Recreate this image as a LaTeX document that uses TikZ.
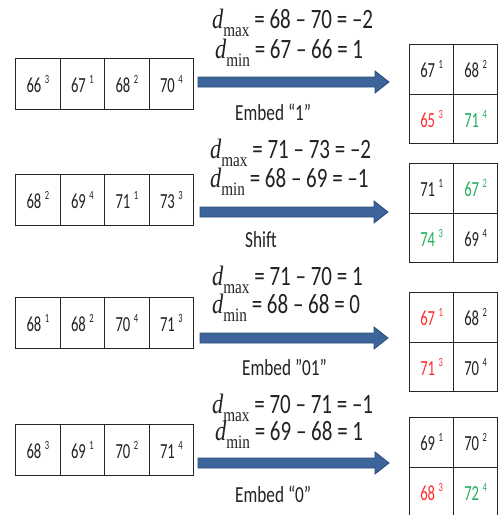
\documentclass[tikz,border=0pt]{standalone}
\usepackage{fontspec}
\setmainfont{Carlito}[FakeStretch=0.75]
\newfontfamily\cellfont{Carlito}[FakeStretch=0.68]
\newfontfamily\eqserif{Liberation Serif}[FakeStretch=0.8]
\usetikzlibrary{calc}
\definecolor{txt}{HTML}{222222}
\definecolor{myred}{HTML}{FF2B2B}
\definecolor{mygreen}{HTML}{1FAF5A}
\definecolor{arrowblue}{HTML}{3D659B}
\definecolor{arrowedge}{HTML}{2A4A78}
\newcommand{\cv}[2]{#1\,\raisebox{0.42em}{\fontsize{12.5}{12.5}\selectfont #2}}
\newcommand{\dd}[1]{{\eqserif\itshape d}\raisebox{-0.28em}{\fontsize{19}{19}\eqserif #1}}
\newcommand{\blockarrow}[2]{%
  \draw[bluearr] ($(#1)+(0,-5)$) -- ($(#2)+(-14,-5)$) -- ($(#2)+(-14,-11)$) -- (#2)
     -- ($(#2)+(-14,11)$) -- ($(#2)+(-14,5)$) -- ($(#1)+(0,5)$) -- cycle;}
\begin{document}
\begin{tikzpicture}[x=1pt,y=-1pt,
  cell/.style={draw=black!85, line width=1.3pt, minimum width=44.5pt, minimum height=51pt,
    inner sep=0pt, anchor=north west, text=txt, font=\cellfont\fontsize{21.5}{21.5}\selectfont},
  gcell/.style={draw=black!85, line width=1.3pt, minimum width=44pt, minimum height=49.5pt,
    inner sep=0pt, anchor=north west, text=txt, font=\cellfont\fontsize{21.5}{21.5}\selectfont},
  eq/.style={anchor=west, inner sep=0pt, text=txt, font=\fontsize{28}{28}\selectfont},
  lbl/.style={anchor=west, inner sep=0pt, text=txt, font=\fontsize{23}{23}\selectfont},
  bluearr/.style={fill=arrowblue, draw=arrowedge, line width=0.8pt, line join=miter}
]
\useasboundingbox (0,0) rectangle (498,515);

% ---------- Row 1 ----------
\node[cell] (r1c1) at (15,58)    {\cv{66}{3}};
\node[cell] (r1c2) at (59.5,58)  {\cv{67}{1}};
\node[cell] (r1c3) at (104,58)   {\cv{68}{2}};
\node[cell] (r1c4) at (148.5,58) {\cv{70}{4}};
\node[eq] (e1a) at (212,23) {\dd{max} = 68 – 70 = –2};
\node[eq] (e1b) at (215,53) {\dd{min} = 67 – 66 = 1};
\coordinate (a1s) at (198,82);
\coordinate (a1e) at (389,82);
\blockarrow{a1s}{a1e}
\node[lbl] (l1) at (235,112) {Embed “1”};
\node[gcell] (g1a) at (409,44)   {\cv{67}{1}};
\node[gcell] (g1b) at (453,44)   {\cv{68}{2}};
\node[gcell,text=myred]   (g1c) at (409,93.5) {\cv{65}{3}};
\node[gcell,text=mygreen] (g1d) at (453,93.5) {\cv{71}{4}};

% ---------- Row 2 ----------
\node[cell] (r2c1) at (15,174)    {\cv{68}{2}};
\node[cell] (r2c2) at (59.5,174)  {\cv{69}{4}};
\node[cell] (r2c3) at (104,174)   {\cv{71}{1}};
\node[cell] (r2c4) at (148.5,174) {\cv{73}{3}};
\node[eq] (e2a) at (210,153) {\dd{max} = 71 – 73 = –2};
\node[eq] (e2b) at (210,182) {\dd{min} = 68 – 69 = –1};
\coordinate (a2s) at (200,212);
\coordinate (a2e) at (388,212);
\blockarrow{a2s}{a2e}
\node[lbl] (l2) at (245,240) {Shift};
\node[gcell] (g2a) at (409,163)   {\cv{71}{1}};
\node[gcell,text=mygreen] (g2b) at (453,163)   {\cv{67}{2}};
\node[gcell,text=mygreen] (g2c) at (409,212.5) {\cv{74}{3}};
\node[gcell] (g2d) at (453,212.5) {\cv{69}{4}};

% ---------- Row 3 ----------
\node[cell] (r3c1) at (15,297)    {\cv{68}{1}};
\node[cell] (r3c2) at (59.5,297)  {\cv{68}{2}};
\node[cell] (r3c3) at (104,297)   {\cv{70}{4}};
\node[cell] (r3c4) at (148.5,297) {\cv{71}{3}};
\node[eq] (e3a) at (212,280) {\dd{max} = 71 – 70 = 1};
\node[eq] (e3b) at (212,308) {\dd{min} = 68 – 68 = 0};
\coordinate (a3s) at (200,338);
\coordinate (a3e) at (388,338);
\blockarrow{a3s}{a3e}
\node[lbl] (l3) at (242,367) {Embed ”01”};
\node[gcell,text=myred] (g3a) at (409,292)   {\cv{67}{1}};
\node[gcell] (g3b) at (453,292)   {\cv{68}{2}};
\node[gcell,text=myred] (g3c) at (409,341.5) {\cv{71}{3}};
\node[gcell] (g3d) at (453,341.5) {\cv{70}{4}};

% ---------- Row 4 ----------
\node[cell] (r4c1) at (15,424)    {\cv{68}{3}};
\node[cell] (r4c2) at (59.5,424)  {\cv{69}{1}};
\node[cell] (r4c3) at (104,424)   {\cv{70}{2}};
\node[cell] (r4c4) at (148.5,424) {\cv{71}{4}};
\node[eq] (e4a) at (212,408) {\dd{max} = 70 – 71 = –1};
\node[eq] (e4b) at (215,435) {\dd{min} = 69 – 68 = 1};
\coordinate (a4s) at (198,463);
\coordinate (a4e) at (389,463);
\blockarrow{a4s}{a4e}
\node[lbl] (l4) at (235,494) {Embed “0”};
\node[gcell] (g4a) at (409,417)   {\cv{69}{1}};
\node[gcell] (g4b) at (453,417)   {\cv{70}{2}};
\node[gcell,text=myred]   (g4c) at (409,466.5) {\cv{68}{3}};
\node[gcell,text=mygreen] (g4d) at (453,466.5) {\cv{72}{4}};
\end{tikzpicture}
\end{document}
